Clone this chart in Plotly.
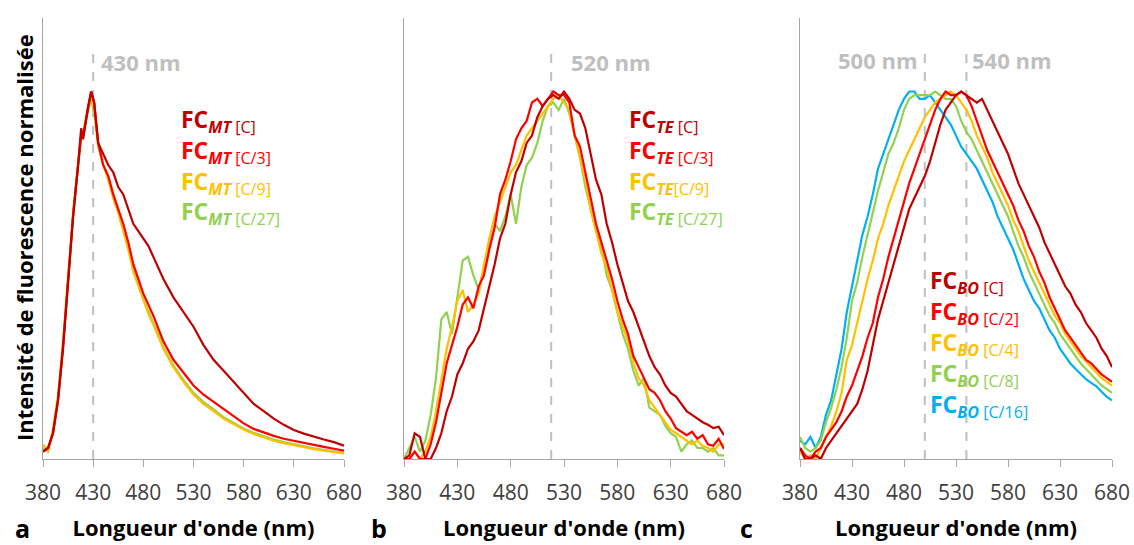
import plotly.graph_objects as go

W, H = 1134, 545

# ---------------- data ----------------
wl_a = [380, 385, 390, 395, 400, 405, 410, 415, 418, 420, 425, 428, 431, 435, 440, 445, 450, 455,
        460, 465, 470, 475, 480, 485, 490, 495, 500, 510, 520, 530, 540, 550, 560, 570, 580, 590,
        600, 610, 620, 630, 640, 650, 660, 670, 680]

mt_c = [0.02, 0.03, 0.07, 0.16, 0.30, 0.47, 0.66, 0.80, 0.90, 0.87, 0.96, 1.00, 0.97, 0.86, 0.83,
        0.80, 0.78, 0.74, 0.72, 0.68, 0.64, 0.62, 0.60, 0.58, 0.55, 0.52, 0.49, 0.44, 0.40, 0.36,
        0.31, 0.27, 0.24, 0.21, 0.18, 0.15, 0.13, 0.11, 0.093, 0.079, 0.069, 0.060, 0.053, 0.046, 0.036]
mt_c3 = [0.02, 0.03, 0.07, 0.16, 0.31, 0.48, 0.66, 0.80, 0.88, 0.88, 0.96, 1.00, 0.97, 0.86, 0.80,
         0.77, 0.72, 0.68, 0.64, 0.59, 0.53, 0.49, 0.45, 0.42, 0.39, 0.355, 0.32, 0.27, 0.235, 0.20,
         0.175, 0.155, 0.135, 0.115, 0.097, 0.082, 0.072, 0.063, 0.055, 0.049, 0.043, 0.038, 0.033,
         0.028, 0.023]
mt_c9 = [0.04, 0.02, 0.08, 0.17, 0.32, 0.50, 0.67, 0.81, 0.88, 0.89, 0.96, 0.99, 0.95, 0.85, 0.80,
         0.76, 0.71, 0.67, 0.62, 0.57, 0.51, 0.47, 0.43, 0.395, 0.365, 0.335, 0.30, 0.25, 0.21,
         0.175, 0.15, 0.13, 0.11, 0.095, 0.08, 0.068, 0.058, 0.05, 0.043, 0.037, 0.032, 0.027,
         0.023, 0.019, 0.015]
mt_c27 = [0.03, 0.02, 0.08, 0.17, 0.31, 0.49, 0.67, 0.80, 0.87, 0.88, 0.95, 0.98, 0.94, 0.86, 0.80,
          0.77, 0.72, 0.67, 0.62, 0.57, 0.52, 0.475, 0.435, 0.40, 0.37, 0.34, 0.305, 0.255, 0.215,
          0.18, 0.155, 0.135, 0.114, 0.098, 0.083, 0.071, 0.061, 0.053, 0.046, 0.040, 0.034, 0.029,
          0.025, 0.021, 0.017]

wl = [380, 385, 390, 395, 400, 405, 410, 415, 420, 425, 430, 435, 440, 445, 450, 455, 460, 465,
      470, 475, 480, 485, 490, 495, 500, 505, 510, 515, 520, 525, 530, 535, 540, 545, 550, 555,
      560, 565, 570, 575, 580, 585, 590, 595, 600, 605, 610, 615, 620, 625, 630, 635, 640, 645,
      650, 655, 660, 665, 670, 675, 680]

te_c = [0.0, 0.01, 0.07, 0.06, 0.0, 0.0, 0.03, 0.07, 0.13, 0.17, 0.23, 0.26, 0.30, 0.32, 0.35,
        0.41, 0.47, 0.53, 0.60, 0.64, 0.72, 0.78, 0.81, 0.86, 0.88, 0.93, 0.96, 0.98, 0.99, 0.98,
        1.00, 0.98, 0.95, 0.94, 0.90, 0.83, 0.76, 0.72, 0.64, 0.59, 0.53, 0.48, 0.43, 0.40, 0.36,
        0.32, 0.28, 0.25, 0.23, 0.20, 0.18, 0.17, 0.15, 0.13, 0.12, 0.11, 0.10, 0.093, 0.084,
        0.088, 0.065]
te_c3 = [0.0, 0.0, 0.02, 0.0, 0.0, 0.04, 0.10, 0.18, 0.26, 0.31, 0.36, 0.42, 0.44, 0.41, 0.47,
         0.50, 0.57, 0.63, 0.72, 0.76, 0.81, 0.87, 0.90, 0.92, 0.97, 0.98, 0.96, 0.98, 1.00, 0.99,
         0.99, 0.97, 0.88, 0.85, 0.78, 0.70, 0.64, 0.59, 0.54, 0.49, 0.43, 0.38, 0.34, 0.28, 0.25,
         0.22, 0.19, 0.18, 0.16, 0.13, 0.11, 0.084, 0.074, 0.065, 0.074, 0.055, 0.065, 0.04,
         0.036, 0.055, 0.027]
te_c9 = [0.0, 0.0, 0.02, 0.0, 0.02, 0.06, 0.13, 0.22, 0.30, 0.36, 0.43, 0.46, 0.40, 0.42, 0.45,
         0.53, 0.60, 0.66, 0.70, 0.74, 0.78, 0.80, 0.84, 0.88, 0.90, 0.92, 0.94, 0.96, 0.98, 0.99,
         0.97, 0.95, 0.88, 0.82, 0.76, 0.68, 0.62, 0.56, 0.52, 0.46, 0.40, 0.36, 0.32, 0.26, 0.22,
         0.20, 0.16, 0.14, 0.12, 0.10, 0.08, 0.07, 0.06, 0.05, 0.04, 0.05, 0.035, 0.03, 0.02,
         0.04, 0.04]
te_c27 = [0.0, 0.03, 0.06, 0.02, 0.05, 0.12, 0.22, 0.38, 0.40, 0.34, 0.44, 0.54, 0.55, 0.50, 0.46,
          0.52, 0.58, 0.64, 0.62, 0.66, 0.72, 0.64, 0.74, 0.80, 0.82, 0.86, 0.92, 0.96, 0.97, 0.95,
          0.98, 0.94, 0.88, 0.82, 0.74, 0.68, 0.62, 0.58, 0.50, 0.46, 0.40, 0.34, 0.30, 0.24, 0.20,
          0.22, 0.14, 0.13, 0.12, 0.09, 0.07, 0.06, 0.02, 0.04, 0.05, 0.03, 0.03, 0.02, 0.03,
          0.01, 0.01]

bo_c = [0.03, 0.0, 0.0, 0.01, 0.0, 0.03, 0.05, 0.07, 0.09, 0.11, 0.13, 0.15, 0.19, 0.24, 0.31,
        0.38, 0.43, 0.48, 0.53, 0.58, 0.63, 0.68, 0.71, 0.74, 0.77, 0.81, 0.86, 0.91, 0.95, 0.97,
        0.99, 1.00, 0.99, 0.98, 0.97, 0.98, 0.95, 0.92, 0.89, 0.86, 0.83, 0.79, 0.75, 0.72, 0.69,
        0.66, 0.63, 0.59, 0.56, 0.53, 0.50, 0.47, 0.45, 0.42, 0.40, 0.37, 0.35, 0.33, 0.30, 0.28,
        0.25]
bo_c2 = [0.03, 0.01, 0.0, 0.02, 0.03, 0.06, 0.08, 0.10, 0.13, 0.17, 0.20, 0.24, 0.28, 0.33, 0.37,
         0.44, 0.49, 0.55, 0.60, 0.65, 0.70, 0.75, 0.79, 0.83, 0.87, 0.91, 0.95, 0.98, 1.00, 0.99,
         0.99, 1.00, 0.99, 0.96, 0.92, 0.88, 0.84, 0.81, 0.78, 0.75, 0.72, 0.69, 0.65, 0.62, 0.58,
         0.55, 0.51, 0.48, 0.44, 0.41, 0.38, 0.35, 0.33, 0.31, 0.29, 0.27, 0.26, 0.245, 0.23,
         0.22, 0.21]
bo_c4 = [0.02, 0.0, 0.01, 0.0, 0.03, 0.06, 0.09, 0.13, 0.18, 0.27, 0.31, 0.37, 0.43, 0.49, 0.54,
         0.60, 0.64, 0.69, 0.73, 0.77, 0.81, 0.84, 0.87, 0.90, 0.93, 0.95, 0.97, 0.98, 0.99, 1.00,
         0.99, 0.97, 0.95, 0.92, 0.88, 0.85, 0.82, 0.78, 0.75, 0.72, 0.69, 0.65, 0.62, 0.58, 0.54,
         0.51, 0.48, 0.45, 0.42, 0.39, 0.37, 0.34, 0.32, 0.30, 0.28, 0.265, 0.25, 0.235, 0.22,
         0.21, 0.20]
bo_c8 = [0.06, 0.03, 0.02, 0.03, 0.05, 0.10, 0.14, 0.19, 0.25, 0.33, 0.43, 0.48, 0.55, 0.61, 0.67,
         0.73, 0.78, 0.83, 0.86, 0.90, 0.95, 0.98, 0.99, 0.99, 0.99, 0.99, 1.00, 0.99, 0.98, 0.98,
         0.96, 0.92, 0.89, 0.87, 0.84, 0.81, 0.78, 0.75, 0.72, 0.69, 0.66, 0.62, 0.58, 0.55, 0.51,
         0.48, 0.45, 0.42, 0.39, 0.37, 0.34, 0.32, 0.30, 0.28, 0.26, 0.245, 0.23, 0.215, 0.20,
         0.19, 0.18]
bo_c16 = [0.05, 0.04, 0.06, 0.03, 0.06, 0.12, 0.16, 0.23, 0.30, 0.40, 0.47, 0.53, 0.61, 0.66, 0.72,
          0.79, 0.83, 0.87, 0.91, 0.95, 0.98, 1.00, 1.00, 0.98, 0.98, 0.99, 0.97, 0.95, 0.93, 0.91,
          0.88, 0.85, 0.83, 0.81, 0.79, 0.76, 0.73, 0.70, 0.66, 0.63, 0.60, 0.57, 0.53, 0.49, 0.46,
          0.43, 0.41, 0.38, 0.35, 0.33, 0.30, 0.28, 0.26, 0.245, 0.23, 0.217, 0.207, 0.198, 0.183,
          0.169, 0.16]

tick_vals = [380, 430, 480, 530, 580, 630, 680]
ref_a = [430]
ref_b = [518]
ref_c = [500, 540]
ref_labels_a = ["430 nm"]
ref_labels_b = ["520 nm"]
ref_labels_c = ["500 nm", "540 nm"]

labels_a = ["[C]", "[C/3]", "[C/9]", "[C/27]"]
labels_b = ["[C]", "[C/3]", "[C/9]", "[C/27]"]
labels_c = ["[C]", "[C/2]", "[C/4]", "[C/8]", "[C/16]"]

COL = ["#C00000", "#FF0000", "#FFC000", "#92D050", "#00B0F0"]
GRAY = "#BFBFBF"
AXC = "#A6A6A6"

# ---------------- figure ----------------
fig = go.Figure()

panels = [
    ("x", "y", wl_a, [mt_c, mt_c3, mt_c9, mt_c27]),
    ("x2", "y2", wl, [te_c, te_c3, te_c9, te_c27]),
    ("x3", "y3", wl, [bo_c, bo_c2, bo_c4, bo_c8, bo_c16]),
]
for xa, ya, xs, series in panels:
    for i in reversed(range(len(series))):
        fig.add_trace(go.Scatter(x=xs, y=series[i], mode="lines", xaxis=xa, yaxis=ya,
                                 line=dict(color=COL[i], width=2.2), showlegend=False,
                                 hoverinfo="skip"))

def px(x):
    return x / W

def py(y):
    return 1 - y / H

doms = [(43, 344), (404, 724), (800, 1112)]
ydom = [py(459), py(18)]
tick_font = dict(family="Open Sans, sans-serif", size=21, color="#404040")
title_font = dict(family="Open Sans, sans-serif", size=22, color="#000000")

for k, (a, b) in enumerate(doms):
    sfx = "" if k == 0 else str(k + 1)
    fig.update_layout(**{
        "xaxis" + sfx: dict(domain=[px(a), px(b)], range=[380, 680], anchor="y" + sfx,
                            tickvals=tick_vals, ticks="outside", ticklen=7, tickwidth=1.3,
                            tickcolor=AXC, showline=True, linecolor=AXC, linewidth=1.3,
                            showgrid=False, zeroline=False, tickfont=tick_font,
                            ticklabelstandoff=8, automargin=False,
                            title=dict(text="<b>Longueur d'onde (nm)</b>", font=title_font,
                                       standoff=15)),
        "yaxis" + sfx: dict(domain=ydom, range=[0, 1.2], anchor="x" + sfx, showline=True,
                            linecolor=AXC, linewidth=1.3, showticklabels=False, ticks="",
                            showgrid=False, zeroline=False, automargin=False),
    })

shapes = []
for xa, ya, refs in [("x", "y", ref_a), ("x2", "y2", ref_b), ("x3", "y3", ref_c)]:
    for r in refs:
        shapes.append(dict(type="line", xref=xa, yref=ya, x0=r, x1=r, y0=0, y1=1.12,
                           line=dict(color=GRAY, width=2, dash="dash"), layer="below"))

ann = []
ref_font = dict(family="Open Sans, sans-serif", size=22, color=GRAY)
ann.append(dict(text="<b>" + ref_labels_a[0] + "</b>", x=px(99), y=py(62), xanchor="left",
                yanchor="middle", font=ref_font))
ann.append(dict(text="<b>" + ref_labels_b[0] + "</b>", x=px(569), y=py(62), xanchor="left",
                yanchor="middle", font=ref_font))
ann.append(dict(text="<b>" + ref_labels_c[0] + "</b>", x=px(920), y=py(60), xanchor="right",
                yanchor="middle", font=ref_font))
ann.append(dict(text="<b>" + ref_labels_c[1] + "</b>", x=px(970), y=py(60), xanchor="left",
                yanchor="middle", font=ref_font))

def legend(labels, code, x0, y0, step, nospace=()):
    for i, lab in enumerate(labels):
        sep = "" if i in nospace else " "
        t = ("<b>FC</b><sub><b><i>" + code + "</i></b>" + sep + lab + "</sub>")
        ann.append(dict(text=t, x=px(x0), y=py(y0 + i * step), xanchor="left",
                        yanchor="middle",
                        font=dict(family="Open Sans, sans-serif", size=23, color=COL[i])))

legend(labels_a, "MT", 179, 120, 31)
legend(labels_b, "TE", 627, 120, 31, nospace=(2,))
legend(labels_c, "BO", 928, 281, 31)

ann.append(dict(text="<b>Intensité de fluorescence normalisée</b>", x=px(24), y=py(238),
                xanchor="center", yanchor="middle", textangle=-90,
                font=dict(family="Open Sans, sans-serif", size=22, color="#000000")))
for letter, xx in [("a", 22), ("b", 379), ("c", 746)]:
    ann.append(dict(text="<b>" + letter + "</b>", x=px(xx), y=py(528), xanchor="center",
                    yanchor="middle",
                    font=dict(family="Open Sans, sans-serif", size=25, color="#000000")))

for a_ in ann:
    a_.update(xref="paper", yref="paper", showarrow=False)

fig.update_layout(width=W, height=H, margin=dict(l=0, r=0, t=0, b=0),
                  paper_bgcolor="white", plot_bgcolor="white",
                  shapes=shapes, annotations=ann)

fig.write_html("out.html", config={"displayModeBar": False},
               post_script="document.body.style.margin='0';"
                           "document.body.style.padding='0';"
                           "document.body.style.overflow='hidden';")
